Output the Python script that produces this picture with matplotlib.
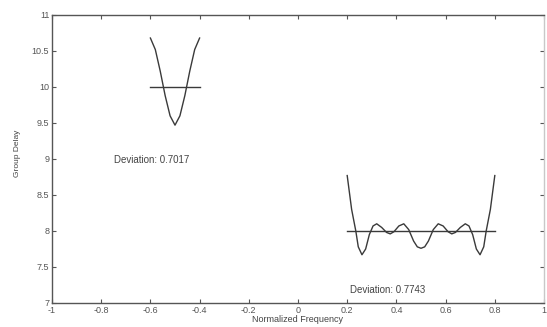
import matplotlib
matplotlib.use('Agg')
import matplotlib.pyplot as plt
import numpy as np

# group delay, first band
x1 = [-0.60, -0.58, -0.56, -0.54, -0.52, -0.50, -0.48, -0.46, -0.44, -0.42, -0.40]
gd1 = [10.68, 10.52, 10.22, 9.88, 9.60, 9.47, 9.60, 9.88, 10.22, 10.52, 10.68]
target1 = 10.0
dev1 = 0.7017

# group delay, second band
x2 = [0.200, 0.218, 0.235, 0.245, 0.260, 0.275, 0.290, 0.305, 0.320, 0.340,
      0.360, 0.375, 0.390, 0.410, 0.430, 0.450, 0.470, 0.485, 0.500,
      0.515, 0.530, 0.550, 0.570, 0.590, 0.610, 0.625, 0.640, 0.660,
      0.680, 0.695, 0.710, 0.725, 0.740, 0.755, 0.765, 0.782, 0.800]
gd2 = [8.77, 8.30, 8.00, 7.78, 7.67, 7.75, 7.95, 8.07, 8.10, 8.05,
       7.98, 7.96, 7.99, 8.07, 8.10, 8.02, 7.86, 7.78, 7.76,
       7.78, 7.86, 8.02, 8.10, 8.07, 7.99, 7.96, 7.98, 8.05,
       8.10, 8.07, 7.95, 7.75, 7.67, 7.78, 8.00, 8.30, 8.77]
target2 = 8.0
dev2 = 0.7743

xticks = [-1, -0.8, -0.6, -0.4, -0.2, 0, 0.2, 0.4, 0.6, 0.8, 1]
xticklabels = ['-1', '-0.8', '-0.6', '-0.4', '-0.2', '0', '0.2', '0.4', '0.6', '0.8', '1']
yticks = [7, 7.5, 8, 8.5, 9, 9.5, 10, 10.5, 11]
yticklabels = ['7', '7.5', '8', '8.5', '9', '9.5', '10', '10.5', '11']

plt.rcParams['font.family'] = ['Liberation Sans', 'DejaVu Sans']

fig = plt.figure(figsize=(5.47, 3.27), dpi=100)
ax = fig.add_axes([52/547, 24/327, 492/547, 288/327])

col = '#3a3a3a'
ax.plot(x1, gd1, color=col, linewidth=1.0)
ax.plot([x1[0], x1[-1]], [target1, target1], color=col, linewidth=1.0)
ax.plot(x2, gd2, color=col, linewidth=1.0)
ax.plot([x2[0], x2[-1]], [target2, target2], color=col, linewidth=1.0)

ax.text(-0.75, 8.99, 'Deviation: %.4f' % dev1, fontsize=7, color='#444444',
        va='center', ha='left')
ax.text(0.21, 7.18, 'Deviation: %.4f' % dev2, fontsize=7, color='#444444',
        va='center', ha='left')

ax.set_xlim(-1, 1)
ax.set_ylim(7, 11)
ax.set_xticks(xticks)
ax.set_xticklabels(xticklabels)
ax.set_yticks(yticks)
ax.set_yticklabels(yticklabels)
ax.tick_params(direction='in', length=3, labelsize=6.5, colors='#555555',
               top=True, right=True, pad=2)
for s in ax.spines.values():
    s.set_color('#555555')
    s.set_linewidth(1.0)
ax.spines['right'].set_color('#c8c8c8')

ax.set_xlabel('Normalized Frequency', fontsize=6.5, color='#444444', labelpad=0)
ax.set_ylabel('Group Delay', fontsize=6, color='#444444', labelpad=7)
ax.yaxis.set_label_coords(-0.062, 0.52)

fig.savefig('out.png', dpi=100)
